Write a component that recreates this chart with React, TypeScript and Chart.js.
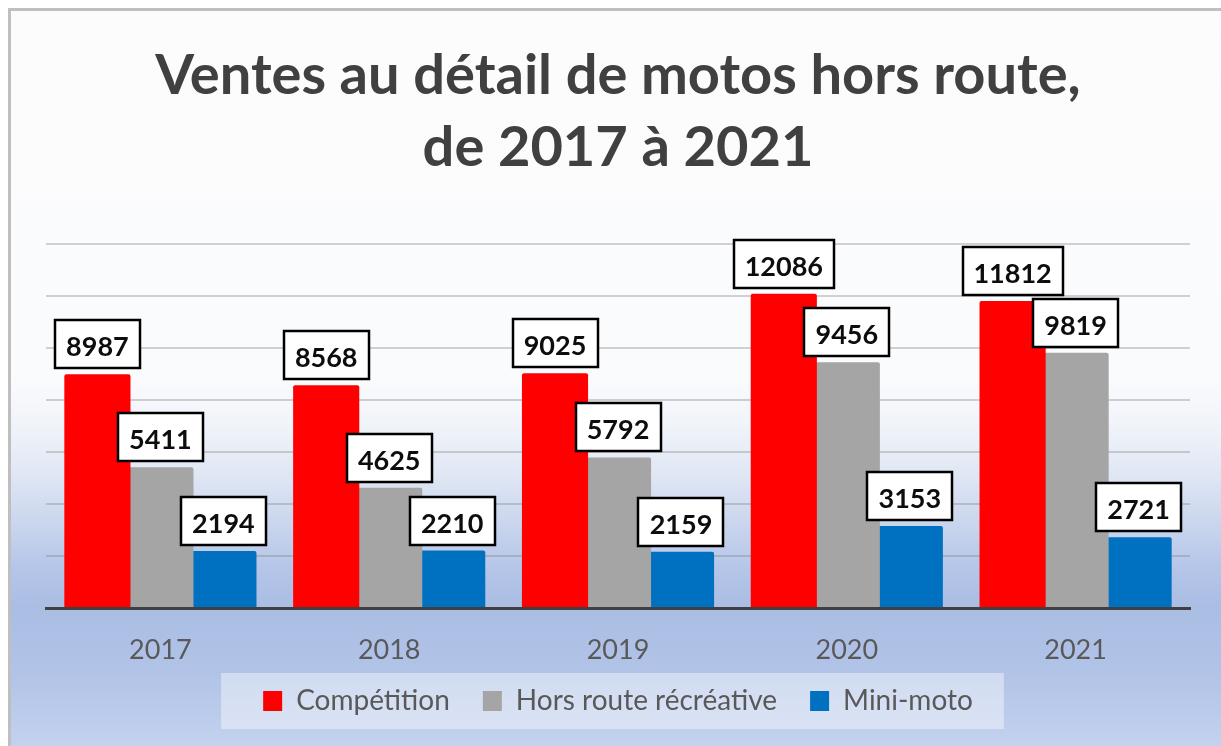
import React, { useEffect, useRef } from "react";
import { Chart, registerables } from "chart.js";

Chart.register(...registerables);

const categories = ["2017", "2018", "2019", "2020", "2021"];
const competition = [8987, 8568, 9025, 12086, 11812];
const horsRoute = [5411, 4625, 5792, 9456, 9819];
const miniMoto = [2194, 2210, 2159, 3153, 2721];
const seriesNames = ["Compétition", "Hors route récréative", "Mini-moto"];
const seriesColors = ["#ff0000", "#a5a5a5", "#0070c0"];
const titleLines = ["Ventes au détail de motos hors route,", "de 2017 à 2021"];
const yMin = 0;
const yMax = 14000;
const yStep = 2000;

const FONT = "Lato, 'Open Sans', sans-serif";
const LEGEND_FONT = 28;
const LEGEND_PAD = 33;
const LEGEND_CENTER_Y = 701;

const backgroundPlugin = {
  id: "bgPlugin",
  beforeDraw(chart: any) {
    const { ctx, width, height } = chart;
    ctx.save();
    ctx.fillStyle = "#ffffff";
    ctx.fillRect(0, 0, width, height);
    const g = ctx.createLinearGradient(0, 11, 0, height);
    g.addColorStop(0, "#fcfcfc");
    g.addColorStop(0.5, "#fafbfd");
    g.addColorStop(0.56, "#f1f4fa");
    g.addColorStop(0.63, "#e0e7f4");
    g.addColorStop(0.7, "#c9d5ee");
    g.addColorStop(0.76, "#b4c5e8");
    g.addColorStop(0.81, "#aabde3");
    g.addColorStop(0.9, "#b1c3e7");
    g.addColorStop(1, "#c3d2ee");
    ctx.fillStyle = g;
    ctx.fillRect(11, 11, width - 11, height - 11);
    ctx.fillStyle = "#bfbfbf";
    ctx.fillRect(8, 8, 3, height - 8);
    ctx.fillRect(8, 8, width - 8, 3);

    const lg = chart.legend;
    if (lg && lg.legendHitBoxes && lg.legendHitBoxes.length) {
      const hb = lg.legendHitBoxes;
      const first = hb[0];
      const last = hb[hb.length - 1];
      const cy = first.top + first.height / 2;
      const left = first.left - 42;
      const right = last.left + last.width + 31;
      ctx.fillStyle = "rgba(255,255,255,0.42)";
      ctx.fillRect(left, cy - 28, right - left, 56);
    }
    ctx.restore();
  },
  afterLayout(chart: any) {
    const lg = chart.legend;
    if (lg) {
      const center = lg.top + LEGEND_PAD + LEGEND_FONT / 2;
      const shift = center - LEGEND_CENTER_Y;
      lg.top -= shift;
      lg.bottom -= shift;
    }
  },
};

const labelPlugin = {
  id: "boxLabels",
  afterDatasetsDraw(chart: any) {
    const { ctx } = chart;
    ctx.save();
    ctx.font = `bold 27px ${FONT}`;
    chart.data.datasets.forEach((ds: any, i: number) => {
      const meta = chart.getDatasetMeta(i);
      meta.data.forEach((el: any, j: number) => {
        const text = String(ds.data[j]);
        const w = ctx.measureText(text).width;
        const bw = Math.round(w + 22);
        const bh = 48;
        const bx = Math.round(el.x - bw / 2);
        const by = Math.round(el.y - 6 - bh);
        ctx.fillStyle = "#ffffff";
        ctx.fillRect(bx, by, bw, bh);
        ctx.lineWidth = 2.5;
        ctx.strokeStyle = "#000000";
        ctx.strokeRect(bx, by, bw, bh);
        ctx.fillStyle = "#0d0d0d";
        ctx.textAlign = "center";
        ctx.textBaseline = "alphabetic";
        ctx.fillText(text, el.x, by + 36);
      });
    });
    ctx.restore();
  },
};

export default function App() {
  const ref = useRef<HTMLCanvasElement | null>(null);

  useEffect(() => {
    document.body.style.margin = "0";
    const canvas = ref.current;
    if (!canvas) return;
    const seriesData = [competition, horsRoute, miniMoto];
    const chart = new Chart(canvas, {
      type: "bar",
      data: {
        labels: categories,
        datasets: seriesNames.map((name, i) => ({
          label: name,
          data: seriesData[i],
          backgroundColor: seriesColors[i],
          borderWidth: 0,
          borderRadius: 2,
          borderSkipped: "start",
          categoryPercentage: 0.826,
          barPercentage: 1.05,
        })),
      },
      options: {
        responsive: false,
        animation: false,
        events: [],
        layout: { padding: { left: 46, right: 31, top: 0, bottom: 5 } },
        plugins: {
          tooltip: { enabled: false },
          title: {
            display: true,
            text: titleLines,
            color: "#404040",
            font: { family: FONT, weight: "bold", size: 56, lineHeight: 1.286 },
            padding: { top: 40, bottom: 60 },
          },
          legend: {
            position: "bottom",
            labels: {
              color: "#595959",
              font: { family: FONT, size: LEGEND_FONT },
              boxWidth: 19,
              boxHeight: 20,
              padding: LEGEND_PAD,
            },
          },
        },
        scales: {
          x: {
            grid: { display: false, drawTicks: false },
            border: { display: true, color: "#404040", width: 3 },
            ticks: {
              color: "#595959",
              font: { family: FONT, size: 27 },
              padding: 26,
            },
            afterFit: (scale: any) => {
              scale.height = 62;
            },
          },
          y: {
            min: yMin,
            max: yMax,
            ticks: { display: false, stepSize: yStep },
            grid: { color: "rgba(130,130,130,0.35)", lineWidth: 2, drawTicks: false },
            border: { display: false },
          },
        },
      },
      plugins: [backgroundPlugin, labelPlugin],
    });
    return () => chart.destroy();
  }, []);

  return (
    <div style={{ position: "absolute", left: 0, top: 0, width: 1221, height: 746 }}>
      <canvas ref={ref} width={1221} height={746} style={{ display: "block", width: 1221, height: 746 }} />
    </div>
  );
}
